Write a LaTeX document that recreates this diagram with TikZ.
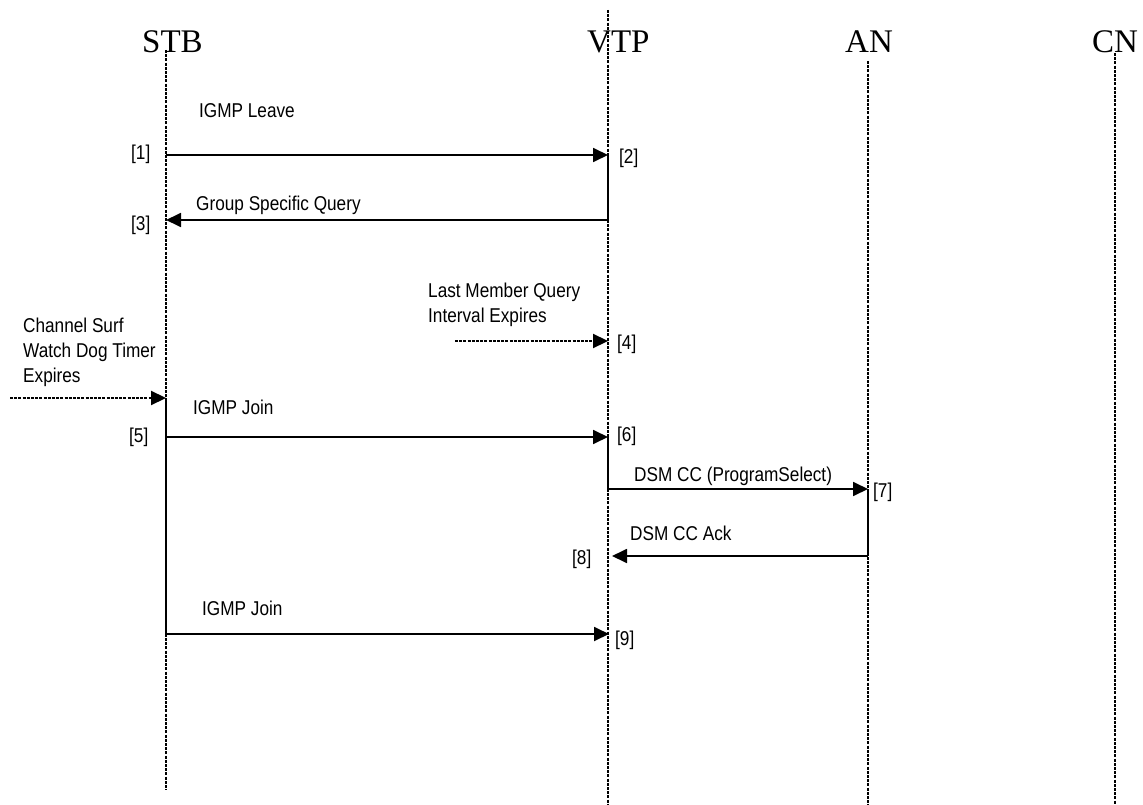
\documentclass[tikz,border=0pt]{standalone}
\usepackage{fontspec}
\setmainfont{Liberation Serif}
\newfontfamily\labfont[FakeStretch=0.86]{Liberation Sans}
\usetikzlibrary{arrows.meta}
\tikzset{
  lifeline/.style={line width=2.2pt, dash pattern=on 3pt off 1.2pt, black},
  msg/.style={line width=1.8pt, -{Triangle[length=15pt,width=14pt]}},
  seg/.style={line width=1.8pt},
  trig/.style={line width=2.2pt, dash pattern=on 3pt off 1.2pt, -{Triangle[length=15pt,width=14pt]}},
  title/.style={anchor=base west, inner sep=0pt, font=\fontsize{33}{36}\selectfont},
  lbl/.style={anchor=base west, inner sep=0pt, font=\labfont\fontsize{20}{25}\selectfont, align=left},
}
\begin{document}
\begin{tikzpicture}[x=1pt,y=-1pt]
\useasboundingbox (0,0) rectangle (1143,805);
% titles
\node[title] (tstb) at (142,53) {STB};
\node[title] (tvtp) at (587,53) {VTP};
\node[title] (tan) at (845,53) {AN};
\node[title] (tcn) at (1092,53) {CN};
% lifeline ends
\coordinate (stbTop) at (166,50);
\coordinate (stbBot) at (166,790);
\coordinate (vtpTop) at (608,10);
\coordinate (vtpBot) at (608,805);
\coordinate (anTop) at (868,61);
\coordinate (anBot) at (868,805);
\coordinate (cnTop) at (1115,53);
\coordinate (cnBot) at (1115,805);
\draw[lifeline] (stbTop) -- (stbBot);
\draw[lifeline] (vtpTop) -- (vtpBot);
\draw[lifeline] (anTop) -- (anBot);
\draw[lifeline] (cnTop) -- (cnBot);
% event points
\coordinate (s1) at (166,155);
\coordinate (v2) at (608,155);
\coordinate (v3) at (608,220);
\coordinate (s3) at (166,220);
\coordinate (l4) at (455,341);
\coordinate (v4) at (608,341);
\coordinate (c5) at (10,398);
\coordinate (s5a) at (166,398);
\coordinate (s5) at (166,437);
\coordinate (v6) at (608,437);
\coordinate (v7) at (608,489);
\coordinate (a7) at (868,489);
\coordinate (a8) at (868,556);
\coordinate (v8) at (612,556);
\coordinate (s9) at (166,634);
\coordinate (v9) at (609,634);
% messages
\draw[msg] (s1) -- (v2);
\draw[seg] (v2) -- (v3);
\draw[msg] (v3) -- (s3);
\draw[trig] (l4) -- (v4);
\draw[trig] (c5) -- (s5a);
\draw[seg] (s5a) -- (s9);
\draw[msg] (s5) -- (v6);
\draw[seg] (v6) -- (v7);
\draw[msg] (v7) -- (a7);
\draw[seg] (a7) -- (a8);
\draw[msg] (a8) -- (v8);
\draw[msg] (s9) -- (v9);
% labels
\node[lbl] (lLeave) at (199,118) {IGMP Leave};
\node[lbl] (lGSQ) at (196,211) {Group Specific Query};
\node[lbl] (lLMQ) at (428,322) {Last Member Query\\Interval Expires};
\node[lbl] (lCS) at (23,382) {Channel Surf\\Watch Dog Timer\\Expires};
\node[lbl] (lJoin1) at (193,414) {IGMP Join};
\node[lbl] (lDSM) at (634,481) {DSM CC (ProgramSelect)};
\node[lbl] (lAck) at (630,540) {DSM CC Ack};
\node[lbl] (lJoin2) at (202,615) {IGMP Join};
\node[lbl] (n1) at (131,160) {[1]};
\node[lbl] (n2) at (619,164) {[2]};
\node[lbl] (n3) at (131,231) {[3]};
\node[lbl] (n4) at (617,349) {[4]};
\node[lbl] (n5) at (129,442) {[5]};
\node[lbl] (n6) at (617,441) {[6]};
\node[lbl] (n7) at (873,497) {[7]};
\node[lbl] (n8) at (572,564) {[8]};
\node[lbl] (n9) at (615,645) {[9]};
\end{tikzpicture}
\end{document}
